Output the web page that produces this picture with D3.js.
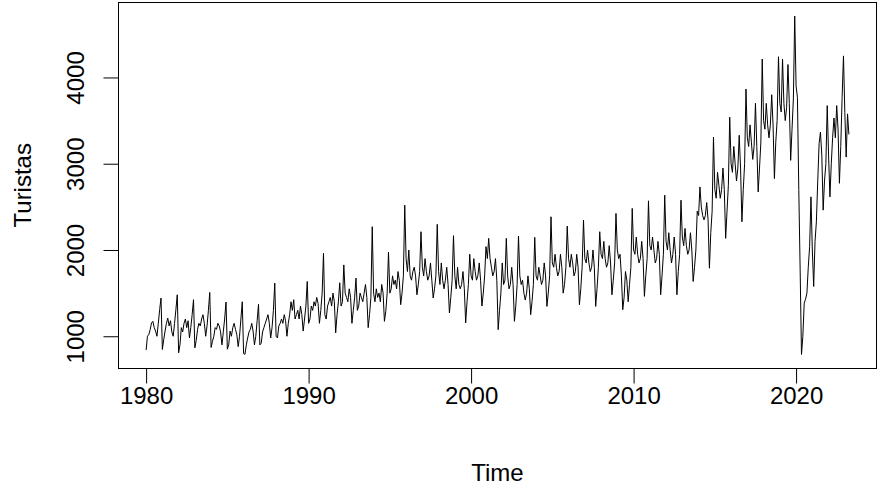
<!DOCTYPE html>
<html><head><meta charset="utf-8">
<script src="https://cdn.jsdelivr.net/npm/d3@7"></script>
<style>
body{margin:0;background:#fff}
svg{display:block}
text{font-family:"Liberation Sans",Arial,sans-serif;fill:#000}
</style>
</head><body>
<svg id="c" width="879" height="488"></svg>
<script>
// Monthly series, starting January 1980
const startYear = 1980;
const monthsPerYear = 12;

const t1980s = [
  840, 1000, 1020, 1077, 1154, 1173, 1100, 1060, 1000, 1150, 1308, 1443,
  847, 960, 1060, 1150, 1210, 1120, 1180, 1050, 1000, 1150, 1310, 1481,
  808, 900, 1100, 1050, 1150, 1200, 1100, 1180, 980, 1100, 1250, 1424,
  866, 950, 1080, 1150, 1120, 1200, 1250, 1150, 1000, 1120, 1300, 1508,
  870, 940, 1000, 1100, 1080, 1150, 1120, 1050, 900, 1050, 1200, 1397,
  850, 900, 1060, 1000, 1100, 1150, 1080, 1020, 880, 1000, 1200, 1400,
  800, 790, 900, 980, 1050, 1080, 1150, 1060, 900, 1000, 1180, 1370,
  900, 920, 1050, 1100, 1150, 1200, 1250, 1150, 980, 1100, 1300, 1616,
  1000, 980, 1120, 1150, 1200, 1150, 1250, 1180, 1000, 1150, 1250, 1400,
  1300, 1424, 1200, 1250, 1300, 1200, 1350, 1250, 1060, 1200, 1350, 1635
];
const t1990s = [
  1150, 1200, 1350, 1300, 1400, 1350, 1450, 1380, 1150, 1300, 1500, 1962,
  1250, 1200, 1350, 1400, 1450, 1350, 1500, 1400, 1040, 1250, 1400, 1620,
  1350, 1400, 1827, 1500, 1450, 1400, 1550, 1450, 1150, 1300, 1450, 1674,
  1300, 1350, 1500, 1450, 1400, 1500, 1600, 1450, 1100, 1250, 1450, 2270,
  1500, 1400, 1550, 1450, 1500, 1400, 1600, 1500, 1173, 1289, 1500, 1974,
  1500, 1550, 1700, 1600, 1650, 1550, 1750, 1650, 1366, 1500, 1700, 2520,
  1900, 1750, 2000, 1700, 1650, 1750, 1800, 1700, 1481, 1600, 1750, 2212,
  1800, 1700, 1900, 1750, 1650, 1700, 1850, 1650, 1443, 1550, 1700, 2297,
  1750, 1600, 1850, 1650, 1550, 1650, 1800, 1600, 1270, 1450, 1650, 2166,
  1700, 1550, 1800, 1600, 1550, 1600, 1750, 1550, 1155, 1400, 1600, 1951
];
const t2000s = [
  1700, 1650, 1900, 1750, 1650, 1700, 1850, 1650, 1350, 1500, 1700, 2039,
  1900, 2135, 1900, 1800, 1700, 1750, 1900, 1650, 1077, 1300, 1500, 1850,
  1600, 1650, 2135, 1700, 1550, 1600, 1800, 1600, 1173, 1350, 1600, 2162,
  1700, 1600, 1650, 1500, 1420, 1500, 1700, 1550, 1250, 1400, 1600, 2147,
  1700, 1650, 1800, 1700, 1600, 1650, 1850, 1700, 1346, 1500, 1700, 2385,
  1850, 1800, 1950, 1800, 1700, 1750, 1950, 1800, 1500, 1600, 1800, 2277,
  1900, 1800, 1950, 1850, 1700, 1750, 1950, 1800, 1366, 1550, 1800, 2347,
  1900, 1850, 2000, 1850, 1750, 1800, 2000, 1800, 1346, 1550, 1800, 2212,
  1950, 1900, 2100, 1900, 1800, 1850, 2050, 1850, 1481, 1650, 1850, 2424,
  2000, 1900, 1950, 1700, 1308, 1450, 1750, 1650, 1400, 1600, 1800, 2482
];
const t2010s = [
  2000, 1950, 2150, 1950, 1850, 1900, 2100, 1900, 1462, 1700, 1900, 2570,
  2050, 2000, 2150, 2000, 1850, 1900, 2100, 1950, 1481, 1700, 1950, 2635,
  2100, 2000, 2200, 2000, 1850, 1950, 2150, 1950, 1481, 1750, 1950, 2577,
  2150, 2050, 2250, 2050, 1950, 2000, 2200, 2000, 1635, 1800, 2000, 2450,
  2400, 2731, 2500, 2400, 2350, 2400, 2550, 2350, 1789, 2200, 2450, 3308,
  2700, 2600, 2900, 2750, 2600, 2700, 2950, 2700, 2135, 2450, 2750, 3539,
  3000, 2900, 3200, 3000, 2800, 2950, 3330, 2950, 2327, 2700, 3000, 3866,
  3300, 3200, 3450, 3250, 3050, 3200, 3700, 3200, 2673, 2950, 3250, 4213,
  3500, 3400, 3700, 3450, 3300, 3450, 3800, 3450, 2827, 3250, 3500, 4240,
  3700, 3600, 4213, 3700, 3500, 3650, 4150, 3700, 3039, 3400, 3750, 4712
];
const t2020s = [
  3900, 3770, 2700, 1770, 789, 1000, 1385, 1430, 1500, 1800, 2039, 2616,
  2000, 1577, 2100, 2327, 2800, 3232, 3366, 3100, 2462, 2800, 3000, 3674,
  3100, 2616, 3000, 3308, 3530, 3300, 3674, 3400, 2773, 3200, 3770, 4250,
  3597, 3077, 3578, 3340
];

const xTicks = [1980, 1990, 2000, 2010, 2020];
const yTicks = [1000, 2000, 3000, 4000];
const xTitle = "Time";
const yTitle = "Turistas";

const values = [].concat(t1980s, t1990s, t2000s, t2010s, t2020s);
const series = values.map((v, i) => ({ t: startYear + i / monthsPerYear, v }));

const svg = d3.select("#c");
const box = { l: 118, r: 877, t: 2.5, b: 368 };

const tExt = d3.extent(series, d => d.t);
const vExt = d3.extent(series, d => d.v);
const tPad = (tExt[1] - tExt[0]) * 0.04;
const vPad = (vExt[1] - vExt[0]) * 0.04;

const x = d3.scaleLinear().domain([tExt[0] - tPad, tExt[1] + tPad]).range([box.l, box.r]);
const y = d3.scaleLinear().domain([vExt[0] - vPad, vExt[1] + vPad]).range([box.b, box.t]);

// series line
svg.append("path")
  .datum(series)
  .attr("fill", "none")
  .attr("stroke", "#000")
  .attr("stroke-width", 1)
  .attr("stroke-linejoin", "round")
  .attr("d", d3.line().x(d => x(d.t)).y(d => y(d.v)));

// box
svg.append("rect")
  .attr("x", box.l + 0.5).attr("y", box.t)
  .attr("width", box.r - box.l - 1).attr("height", box.b - box.t + 0.5)
  .attr("fill", "none").attr("stroke", "#000").attr("stroke-width", 1);

// x axis
const xAxis = d3.axisBottom(x).tickValues(xTicks).tickFormat(d3.format("d"))
  .tickSizeInner(15).tickSizeOuter(0).tickPadding(5);
const gx = svg.append("g").attr("transform", `translate(0,${box.b + 0.5})`).call(xAxis);
gx.select(".domain").attr("d", `M${x(xTicks[0])},0H${x(xTicks[xTicks.length-1])}`).attr("stroke", "#000");
gx.selectAll(".tick line").attr("stroke", "#000");
gx.selectAll(".tick text").attr("font-size", 24).attr("font-family", "Liberation Sans, Arial, sans-serif")
  .attr("fill", "#000").attr("dy", null).attr("y", 35);

// y axis
const yAxis = d3.axisLeft(y).tickValues(yTicks).tickFormat(d3.format("d"))
  .tickSizeInner(15).tickSizeOuter(0);
const gy = svg.append("g").attr("transform", `translate(${box.l + 0.5},0)`).call(yAxis);
gy.select(".domain").attr("d", `M0,${y(yTicks[0])}V${y(yTicks[yTicks.length-1])}`).attr("stroke", "#000");
gy.selectAll(".tick line").attr("stroke", "#000");
gy.selectAll(".tick text")
  .attr("font-size", 24).attr("font-family", "Liberation Sans, Arial, sans-serif").attr("fill", "#000")
  .attr("x", null).attr("dy", null)
  .attr("text-anchor", "middle")
  .attr("transform", "translate(-35,0) rotate(-90)");

// titles
svg.append("text")
  .attr("x", (box.l + box.r) / 2).attr("y", 481)
  .attr("text-anchor", "middle").attr("font-size", 24).text(xTitle);

svg.append("text")
  .attr("transform", `translate(31,${(box.t + box.b) / 2}) rotate(-90)`)
  .attr("text-anchor", "middle").attr("font-size", 24).text(yTitle);
</script>
</body></html>
